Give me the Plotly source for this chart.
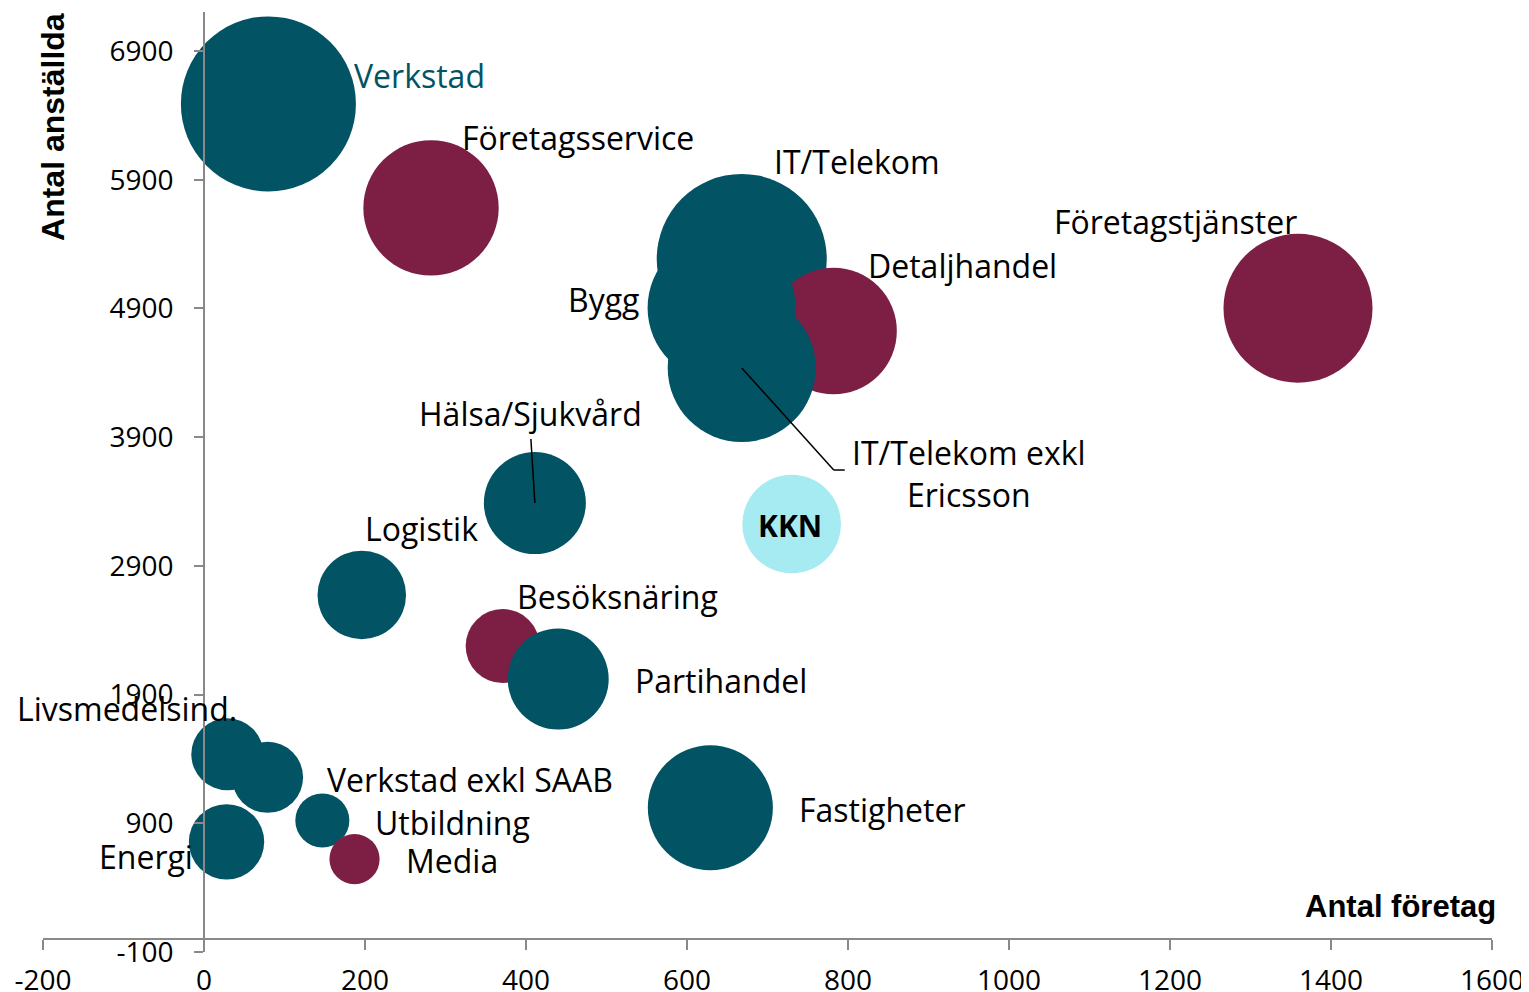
import plotly.graph_objects as go

# ---- data ----
bransch = ["Verkstad", "Företagsservice", "IT/Telekom", "Detaljhandel", "Bygg",
           "IT/Telekom exkl Ericsson", "Företagstjänster", "Hälsa/Sjukvård", "KKN",
           "Logistik", "Besöksnäring", "Partihandel", "Livsmedelsind.",
           "Verkstad exkl SAAB", "Energi", "Utbildning", "Media", "Fastigheter"]
antal_foretag = [80, 282, 668, 782, 643, 668, 1359, 411, 730, 196, 371, 440,
                 29, 79, 28, 147, 187, 629]
antal_anstallda = [6489, 5681, 5284, 4725, 4904, 4437, 4901, 3388, 3225, 2674,
                   2277, 2021, 1436, 1257, 756, 922, 622, 1021]
storlek = [766, 458, 723, 401, 548, 548, 555, 260, 243, 196, 137, 255,
           130, 126, 142, 73, 63, 391]
grupp = ["A", "B", "A", "B", "A", "A", "B", "A", "K", "A", "B", "A",
         "A", "A", "A", "A", "B", "A"]

x_ticks = [-200, 0, 200, 400, 600, 800, 1000, 1200, 1400, 1600]
y_ticks = [-100, 900, 1900, 2900, 3900, 4900, 5900, 6900]

# ---- styles ----
TEAL = "#025364"
MAROON = "#7D1F44"
CYAN = "#A6EBF2"
AXIS = "#898989"
farg = {"A": TEAL, "B": MAROON, "K": CYAN}
FONT = "Open Sans, Noto Sans, sans-serif"
BOLD = "Liberation Sans, Arial, sans-serif"

# label placement: xanchor, x-offset px, y-offset px (up positive)
etikett = {
    "Verkstad": ("left", 84, 28),
    "Företagsservice": ("left", 29, 70),
    "IT/Telekom": ("left", 30, 98),
    "Detaljhandel": ("left", 32, 65),
    "Bygg": ("right", -81, 8),
    "IT/Telekom exkl Ericsson": ("center", 227, -105),
    "Företagstjänster": ("left", -246, 87),
    "Hälsa/Sjukvård": ("center", -4, 90),
    "KKN": ("center", -2, -1),
    "Logistik": ("left", 1, 66),
    "Besöksnäring": ("left", 12, 50),
    "Partihandel": ("left", 75, -1),
    "Livsmedelsind.": ("left", -212, 46),
    "Verkstad exkl SAAB": ("left", 57, -2),
    "Energi": ("right", -32, -15),
    "Utbildning": ("left", 51, -2),
    "Media": ("left", 49, -1),
    "Fastigheter": ("left", 87, -2),
}

fig = go.Figure()
fig.add_trace(go.Scatter(
    x=antal_foretag, y=antal_anstallda, mode="markers",
    marker=dict(size=storlek, sizemode="area", sizeref=0.05,
                color=[farg[g] for g in grupp], opacity=1,
                line=dict(width=0)),
    hovertext=bransch, showlegend=False, cliponaxis=False,
))

annotations = []
for namn, xv, yv in zip(bransch, antal_foretag, antal_anstallda):
    xa, dx, dy = etikett[namn]
    text = namn
    font = dict(family=FONT, size=32, color="black")
    if namn == "Verkstad":
        font["color"] = TEAL
    if namn == "KKN":
        text = "<b>KKN</b>"
        font = dict(family=FONT, size=30, color="black")
    if namn == "IT/Telekom exkl Ericsson":
        text = "IT/Telekom exkl<br>Ericsson"
    annotations.append(dict(x=xv, y=yv, xref="x", yref="y", text=text,
                            showarrow=False, xanchor=xa, yanchor="middle",
                            xshift=dx, yshift=dy, font=font, align="center"))

# axis titles
annotations.append(dict(x=1, y=0.0489, xref="paper", yref="paper",
                        text="<b>Antal företag</b>", showarrow=False,
                        xanchor="right", yanchor="middle", xshift=6,
                        font=dict(family=BOLD, size=31, color="black")))
annotations.append(dict(x=0.0069, y=0.8777, xref="paper", yref="paper",
                        text="<b>Antal anställda</b>", showarrow=False,
                        textangle=-90, xanchor="center", yanchor="middle",
                        font=dict(family=BOLD, size=32, color="black")))

# leader lines
idx_h = bransch.index("Hälsa/Sjukvård")
idx_i = bransch.index("IT/Telekom exkl Ericsson")
shapes = [
    dict(type="line", xref="x", yref="y", xsizemode="pixel", ysizemode="pixel",
         xanchor=antal_foretag[idx_h], yanchor=antal_anstallda[idx_h],
         x0=0, y0=0, x1=-4, y1=64, line=dict(color="black", width=1.5)),
    dict(type="line", xref="x", yref="y", xsizemode="pixel", ysizemode="pixel",
         xanchor=antal_foretag[idx_i], yanchor=antal_anstallda[idx_i],
         x0=0, y0=0, x1=92, y1=-102, line=dict(color="black", width=1.5)),
    dict(type="line", xref="x", yref="y", xsizemode="pixel", ysizemode="pixel",
         xanchor=antal_foretag[idx_i], yanchor=antal_anstallda[idx_i],
         x0=92, y0=-102, x1=103, y1=-102, line=dict(color="black", width=1.5)),
]

# page body adds an 8px offset; margins compensate
fig.update_layout(
    width=1529, height=992,
    margin=dict(l=35, r=45, t=4, b=48),
    paper_bgcolor="white", plot_bgcolor="white",
    xaxis=dict(range=[-200, 1600], tickvals=x_ticks, ticktext=[str(v) for v in x_ticks],
               showgrid=False, zeroline=False, showline=True, linecolor=AXIS,
               linewidth=1.5, ticks="outside", ticklen=10, tickwidth=1.5,
               tickcolor=AXIS, anchor="free", position=0.01372,
               ticklabelstandoff=7,
               tickfont=dict(family=FONT, size=28, color="black"),
               automargin=False),
    yaxis=dict(range=[-100, 7203], tickvals=y_ticks, ticktext=[str(v) for v in y_ticks],
               showgrid=False, zeroline=False, showline=True, linecolor=AXIS,
               linewidth=1.5, ticks="outside", ticklen=9, tickwidth=1.5,
               tickcolor=AXIS, anchor="free", position=0.1111,
               ticklabelstandoff=15,
               tickfont=dict(family=FONT, size=28, color="black"),
               automargin=False),
    annotations=annotations, shapes=shapes,
)

fig.write_html("out.html")
